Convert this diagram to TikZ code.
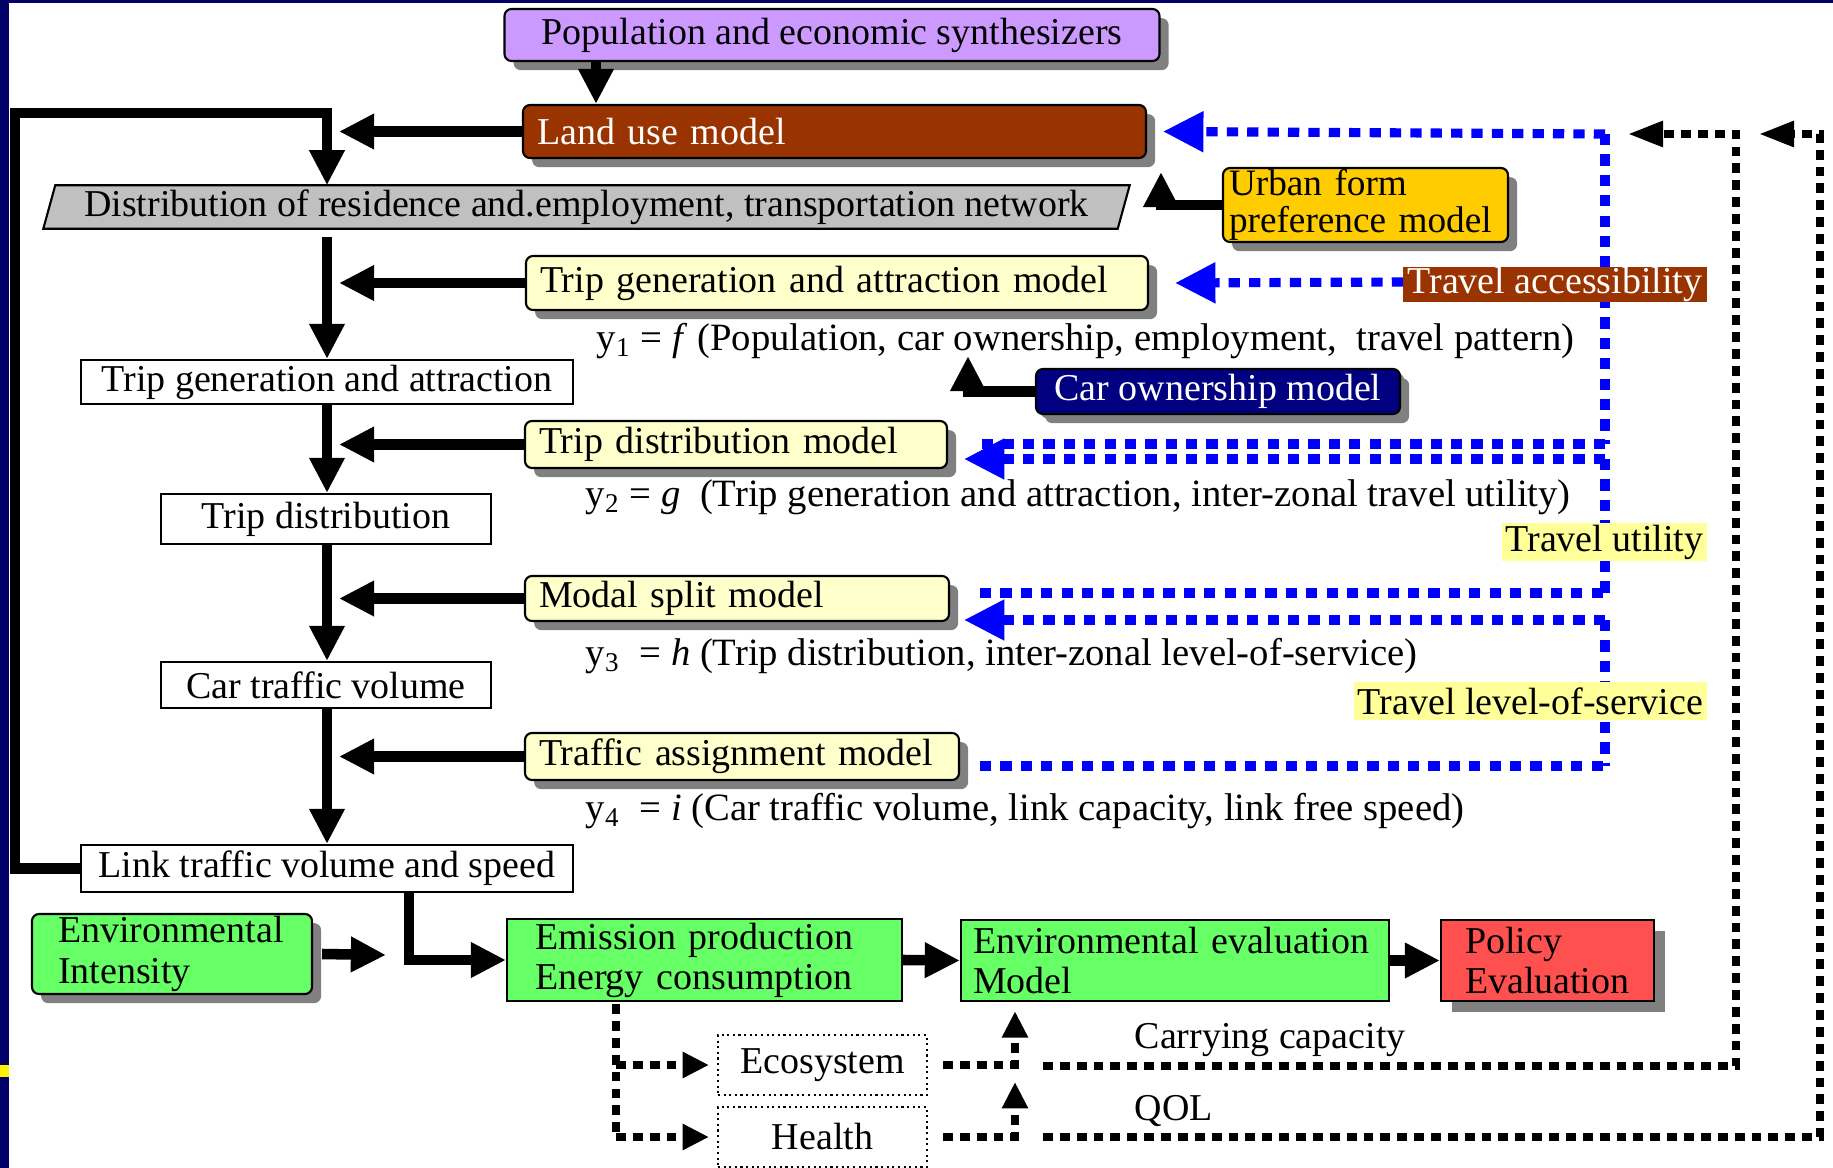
\documentclass[tikz,border=0pt]{standalone}
\usepackage{fontspec}
\setmainfont{Liberation Serif}
\usetikzlibrary{arrows.meta,shadows,backgrounds}

\begin{document}
\begin{tikzpicture}[x=0.1mm, y=-0.1mm,
    font=\fontsize{10.8}{12}\selectfont,
    box/.style={draw, line width=0.6pt, inner sep=0pt},
    modelbox/.style={box, rounded corners=2pt, align=left, inner xsep=1.4mm,
        general shadow={shadow xshift=2.6pt, shadow yshift=-2.6pt, fill=shadowcolor}},
    tag/.style={inner sep=0pt},
    formula/.style={tag, anchor=west, font=\fontsize{11}{12}\selectfont},
    flow/.style={line width=3pt, -{Triangle[length=10pt,width=9.5pt]}},
    feedback/.style={blue, line width=2.6pt, dash pattern=on 3.2pt off 2.6pt},
    feedbackarrow/.style={feedback, -{Triangle[length=11.5pt,width=11pt]}},
    impact/.style={line width=2.1pt, dash pattern=on 2.8pt off 2pt},
    impactarrow/.style={impact, -{Triangle[length=7.5pt,width=7pt]}},
    returnarrow/.style={impact, -{Triangle[length=10pt,width=7pt]}}]
    % Define colors
    \definecolor{framecolor}{RGB}{0, 0, 102}
    \definecolor{popcolor}{RGB}{204, 153, 255}
    \definecolor{landcolor}{RGB}{153, 51, 0}
    \definecolor{distcolor}{RGB}{192, 192, 192}
    \definecolor{modelcolor}{RGB}{255, 255, 204}
    \definecolor{carcolor}{RGB}{0, 0, 128}
    \definecolor{urbancolor}{RGB}{255, 204, 0}
    \definecolor{envcolor}{RGB}{102, 255, 102}
    \definecolor{policycolor}{RGB}{255, 80, 80}
    \definecolor{labelcolor}{RGB}{255, 255, 153}
    \definecolor{shadowcolor}{RGB}{128, 128, 128}

    % Page and frame
    \useasboundingbox (0,0) rectangle (1833,1168);
    \fill[framecolor] (0,0) rectangle (9,1168);
    \fill[framecolor] (0,0) rectangle (1833,3);
    \fill[yellow] (0,1065) rectangle (9,1077);

    % Land use part
    \node[modelbox, fill=popcolor, align=center, minimum width=65.5mm, minimum height=5.2mm] (pop) at (832,35) {Population and economic synthesizers};
    \node[modelbox, fill=landcolor, text=white, text width=59.5mm, minimum height=5.3mm] (landuse) at (834.5,131.5) {Land use model};
    \node[tag, minimum width=108.5mm, minimum height=4.2mm] (dist) at (586.5,207) {Distribution of residence and.employment, transportation network};
    \begin{scope}[on background layer]
        \draw[line width=0.6pt, fill=distcolor] ([xshift=3.4pt]dist.north west) -- (dist.north east)
            -- ([xshift=-3.4pt]dist.south east) -- (dist.south west) -- cycle;
    \end{scope}
    \node[modelbox, fill=urbancolor, inner xsep=0.6mm, text width=27.3mm, minimum height=7.4mm, font=\fontsize{10.6}{10.6}\selectfont] (urban) at (1365.5,205) {Urban form\\preference model};

    % Four step models
    \node[modelbox, fill=modelcolor, text width=59.4mm, minimum height=5.4mm] (tgmodel) at (837,283) {Trip generation and attraction model};
    \node[modelbox, fill=modelcolor, text width=39.4mm, minimum height=4.7mm] (tdmodel) at (736,444.5) {Trip distribution model};
    \node[modelbox, fill=modelcolor, text width=39.6mm, minimum height=4.5mm] (msmodel) at (737,598.5) {Modal split model};
    \node[modelbox, fill=modelcolor, text width=40.6mm, minimum height=4.7mm] (tamodel) at (742,756.5) {Traffic assignment model};
    \node[modelbox, fill=carcolor, text=white, align=center, minimum width=36.4mm, minimum height=4.5mm,
        general shadow={shadow xshift=1.2pt, shadow yshift=-1.2pt, fill=shadowcolor}] (carown) at (1218,391.5) {Car ownership model};

    % Four step results
    \node[box, fill=white, minimum width=49.2mm, minimum height=4.4mm] (tga) at (327,382) {Trip generation and attraction};
    \node[box, fill=white, minimum width=33mm, minimum height=5mm] (td) at (326,519) {Trip distribution};
    \node[box, fill=white, minimum width=33mm, minimum height=4.6mm] (ctv) at (326,685) {Car traffic volume};
    \node[box, fill=white, minimum width=49.2mm, minimum height=4.7mm] (ltv) at (327,868.5) {Link traffic volume and speed};

    % Functions
    \node[formula] (fgen) at (596,341) {y\textsubscript{1} = \textit{f} (Population, car ownership, employment,\ \ travel pattern)};
    \node[formula] (fdist) at (585,497) {y\textsubscript{2} = \textit{g} \ (Trip generation and attraction, inter-zonal travel utility)};
    \node[formula] (fsplit) at (585,656) {y\textsubscript{3} \ = \textit{h} (Trip distribution, inter-zonal level-of-service)};
    \node[formula] (fassign) at (585,811) {y\textsubscript{4} \ = \textit{i} (Car traffic volume, link capacity, link free speed)};

    % Environmental part
    \node[modelbox, fill=envcolor, inner xsep=2.6mm, text width=22.8mm, minimum height=8mm, font=\fontsize{10.8}{11.7}\selectfont] (envint) at (172,954) {Environmental\\Intensity};
    \node[box, fill=envcolor, inner xsep=2.8mm, align=left, text width=33.9mm, minimum height=8.2mm, font=\fontsize{10.8}{11.4}\selectfont] (emis) at (704.5,960) {Emission production\\Energy consumption};
    \node[box, fill=envcolor, inner xsep=1.2mm, align=left, text width=40.4mm, minimum height=8.1mm, font=\fontsize{10.8}{11.4}\selectfont] (enveval) at (1175,960.5) {Environmental evaluation\\Model};
    \node[box, fill=policycolor, inner xsep=2.4mm, align=left, text width=16.5mm, minimum height=8.1mm, font=\fontsize{10.8}{11.4}\selectfont,
        general shadow={shadow xshift=3.2pt, shadow yshift=-3pt, fill=shadowcolor}] (policy) at (1547.5,960.5) {Policy\\Evaluation};
    \node[box, densely dotted, line width=0.5pt, minimum width=20.9mm, minimum height=6mm] (eco) at (822.5,1065) {Ecosystem};
    \node[box, densely dotted, line width=0.5pt, minimum width=20.9mm, minimum height=6mm] (health) at (822.5,1137) {Health};

    % Helper coordinates
    \coordinate (spine) at (327,0);
    \coordinate (spinetip) at (339,0);
    \coordinate (loop) at (15,113);
    \coordinate (fbx) at (1605,0);
    \coordinate (fbstart) at (980,0);
    \coordinate (fbtip) at (964,0);
    \coordinate (cartop) at (968,356);
    \coordinate (urbantop) at (1161,172);
    \coordinate (envtip) at (386,955);
    \coordinate (emisbend) at (409,961);
    \coordinate (impactx) at (616,0);
    \coordinate (upx) at (1015,0);
    \coordinate (carryx) at (1736,134);
    \coordinate (carrytip) at (1628,134);
    \coordinate (qolx) at (1820,134);
    \coordinate (qoltip) at (1759,134);

    % Main flow
    \draw[flow] (pop.south -| 596,0) -- (landuse.north -| 596,0);
    \draw[flow] (ltv.west) -| (loop) -| (dist.north -| spine);
    \draw[flow] (landuse.west) -- (landuse.west -| spinetip);
    \draw[flow] ([yshift=-2.3pt]dist.south -| spine) -- (tga.north -| spine);
    \draw[flow] (tgmodel.west) -- (tgmodel.west -| spinetip);
    \draw[flow] (tga.south -| spine) -- (td.north -| spine);
    \draw[flow] (tdmodel.west) -- (tdmodel.west -| spinetip);
    \draw[flow] (td.south -| spine) -- (ctv.north -| spine);
    \draw[flow] (msmodel.west) -- (msmodel.west -| spinetip);
    \draw[flow] (ctv.south -| spine) -- (ltv.north -| spine);
    \draw[flow] (tamodel.west) -- (tamodel.west -| spinetip);
    \draw[flow] (carown.west) -| (cartop);
    \draw[flow] (urban.west) -| (urbantop);

    % Environmental flow
    \draw[flow] (envint.east) ++(9,0) -- (envtip);
    \draw[flow] (ltv.south -| emisbend) |- (emis.west);
    \draw[flow] (emis.east) -- (enveval.west);
    \draw[flow] (enveval.east) -- (policy.west);

    % Feedback of travel conditions
    \draw[feedbackarrow] (fbx |- carryx) -- (landuse.east -| 1163,0);
    \draw[feedback] (fbx |- carryx) -- (fbx |- 0,444);
    \draw[feedback] (fbx |- 0,444) -- (fbstart |- 0,444);
    \draw[feedbackarrow] (1403,282) -- (tgmodel.east -| 1175,0);
    \draw[feedbackarrow] (fbx |- 0,459) -- (fbtip |- 0,459);
    \draw[feedback] (fbx |- 0,459) -- (fbx |- 0,593);
    \draw[feedback] (fbstart |- 0,593) -- (fbx |- 0,593);
    \draw[feedbackarrow] (fbx |- 0,620) -- (fbtip |- 0,620);
    \draw[feedback] (fbx |- 0,620) -- (fbx |- 0,766);
    \draw[feedback] (fbstart |- 0,766) -- (fbx |- 0,766);

    % Feedback labels
    \node[tag, fill=landcolor, text=white, minimum width=30.4mm, minimum height=3.5mm] (access) at (1555,284.5) {Travel accessibility};
    \node[tag, fill=labelcolor, minimum width=20.5mm, minimum height=3.8mm] (utility) at (1604.5,542) {Travel utility};
    \node[tag, fill=labelcolor, minimum width=35.3mm, minimum height=3.8mm] (service) at (1530.5,701) {Travel level-of-service};
    \node[tag, anchor=west] (carrying) at (1134,1040) {Carrying capacity};
    \node[tag, anchor=west] (qol) at (1134,1111) {QOL};

    % Impacts
    \draw[impact] ([yshift=-0.6pt]emis.south -| impactx) -- (impactx |- health);
    \draw[impactarrow] (impactx |- eco) -- ([xshift=-2.3pt]eco.west);
    \draw[impactarrow] (impactx |- health) -- ([xshift=-2.3pt]health.west);
    \draw[impactarrow] ([xshift=4.3pt]eco.east) -| ([yshift=-2.6pt]enveval.south -| upx);
    \draw[impactarrow] ([xshift=4.3pt]health.east) -| (upx |- 0,1082);
    \draw[returnarrow] (1043,1066) -| (carryx) -- (carrytip);
    \draw[returnarrow] (1043,1137) -| (qolx) -- (qoltip);
\end{tikzpicture}
\end{document}
